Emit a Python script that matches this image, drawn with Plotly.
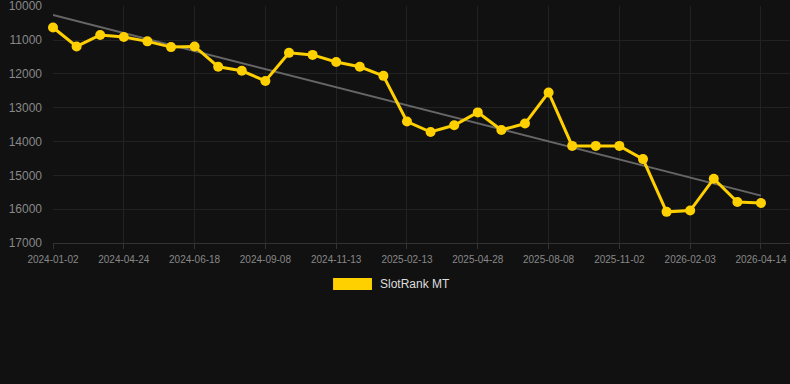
import plotly.graph_objects as go

dates = [
    "2024-01-02", "2024-02-10", "2024-03-18", "2024-04-24", "2024-05-12",
    "2024-05-31", "2024-06-18", "2024-07-13", "2024-08-10", "2024-09-08",
    "2024-10-01", "2024-10-22", "2024-11-13", "2024-12-15", "2025-01-14",
    "2025-02-13", "2025-03-10", "2025-04-03", "2025-04-28", "2025-06-05",
    "2025-07-08", "2025-08-08", "2025-09-05", "2025-10-03", "2025-11-02",
    "2025-12-05", "2026-01-06", "2026-02-03", "2026-02-28", "2026-03-22",
    "2026-04-14",
]
rank = [
    10630, 11190, 10850, 10910, 11040, 11210, 11190, 11790, 11910, 12210,
    11380, 11440, 11650, 11790, 12060, 13410, 13720, 13520, 13140, 13660,
    13470, 12550, 14130, 14130, 14130, 14520, 16080, 16040, 15100, 15790,
    15820,
]
trend_x = [dates[0], dates[-1]]
trend_y = [10260, 15600]
tick_dates = dates[::3]
y_ticks = [10000, 11000, 12000, 13000, 14000, 15000, 16000, 17000]
series_name = "SlotRank MT"

YELLOW = "#FFD000"
BG = "#111111"
GRID = "#222222"
TICK = "#888888"

fig = go.Figure()
fig.add_trace(go.Scatter(
    x=trend_x, y=trend_y, mode="lines",
    line=dict(color="#666666", width=2),
    showlegend=False, hoverinfo="skip", cliponaxis=False,
))
fig.add_trace(go.Scatter(
    x=dates, y=rank, mode="lines+markers", name=series_name,
    line=dict(color=YELLOW, width=3),
    marker=dict(color=YELLOW, size=10),
    showlegend=False, cliponaxis=False,
))

fig.update_layout(
    width=790, height=384,
    margin=dict(l=53, r=0, t=6, b=141),
    paper_bgcolor=BG, plot_bgcolor=BG,
    font=dict(family="Liberation Sans, Arial, sans-serif", color=TICK),
    showlegend=False,
    xaxis=dict(
        type="category", categoryorder="array", categoryarray=dates,
        range=[0, 31.23],
        tickmode="array", tickvals=tick_dates, ticktext=tick_dates,
        tickfont=dict(size=10, color=TICK),
        showgrid=True, gridcolor=GRID, gridwidth=1,
        showline=True, linecolor="#333333", linewidth=1,
        ticks="outside", ticklen=5, tickcolor="#333333",
        ticklabelstandoff=2,
        zeroline=False,
    ),
    yaxis=dict(
        range=[17000, 9995],
        tickmode="array", tickvals=y_ticks,
        ticktext=[str(v) for v in y_ticks],
        tickfont=dict(size=12, color=TICK),
        showgrid=True, gridcolor=GRID, gridwidth=1,
        zeroline=False, showline=False,
        ticks="", ticklabelstandoff=10,
        ticklabeloverflow="allow",
    ),
    shapes=[dict(
        type="rect", xref="paper", yref="paper",
        x0=0.380, x1=0.4328, y0=-0.1983, y1=-0.1477,
        fillcolor=YELLOW, line=dict(width=0),
    )],
    annotations=[dict(
        text=series_name, xref="paper", yref="paper",
        x=0.441, y=-0.173, xanchor="left", yanchor="middle",
        showarrow=False, font=dict(size=12, color="#dddddd"),
    )],
)

fig.write_html("out.html")
